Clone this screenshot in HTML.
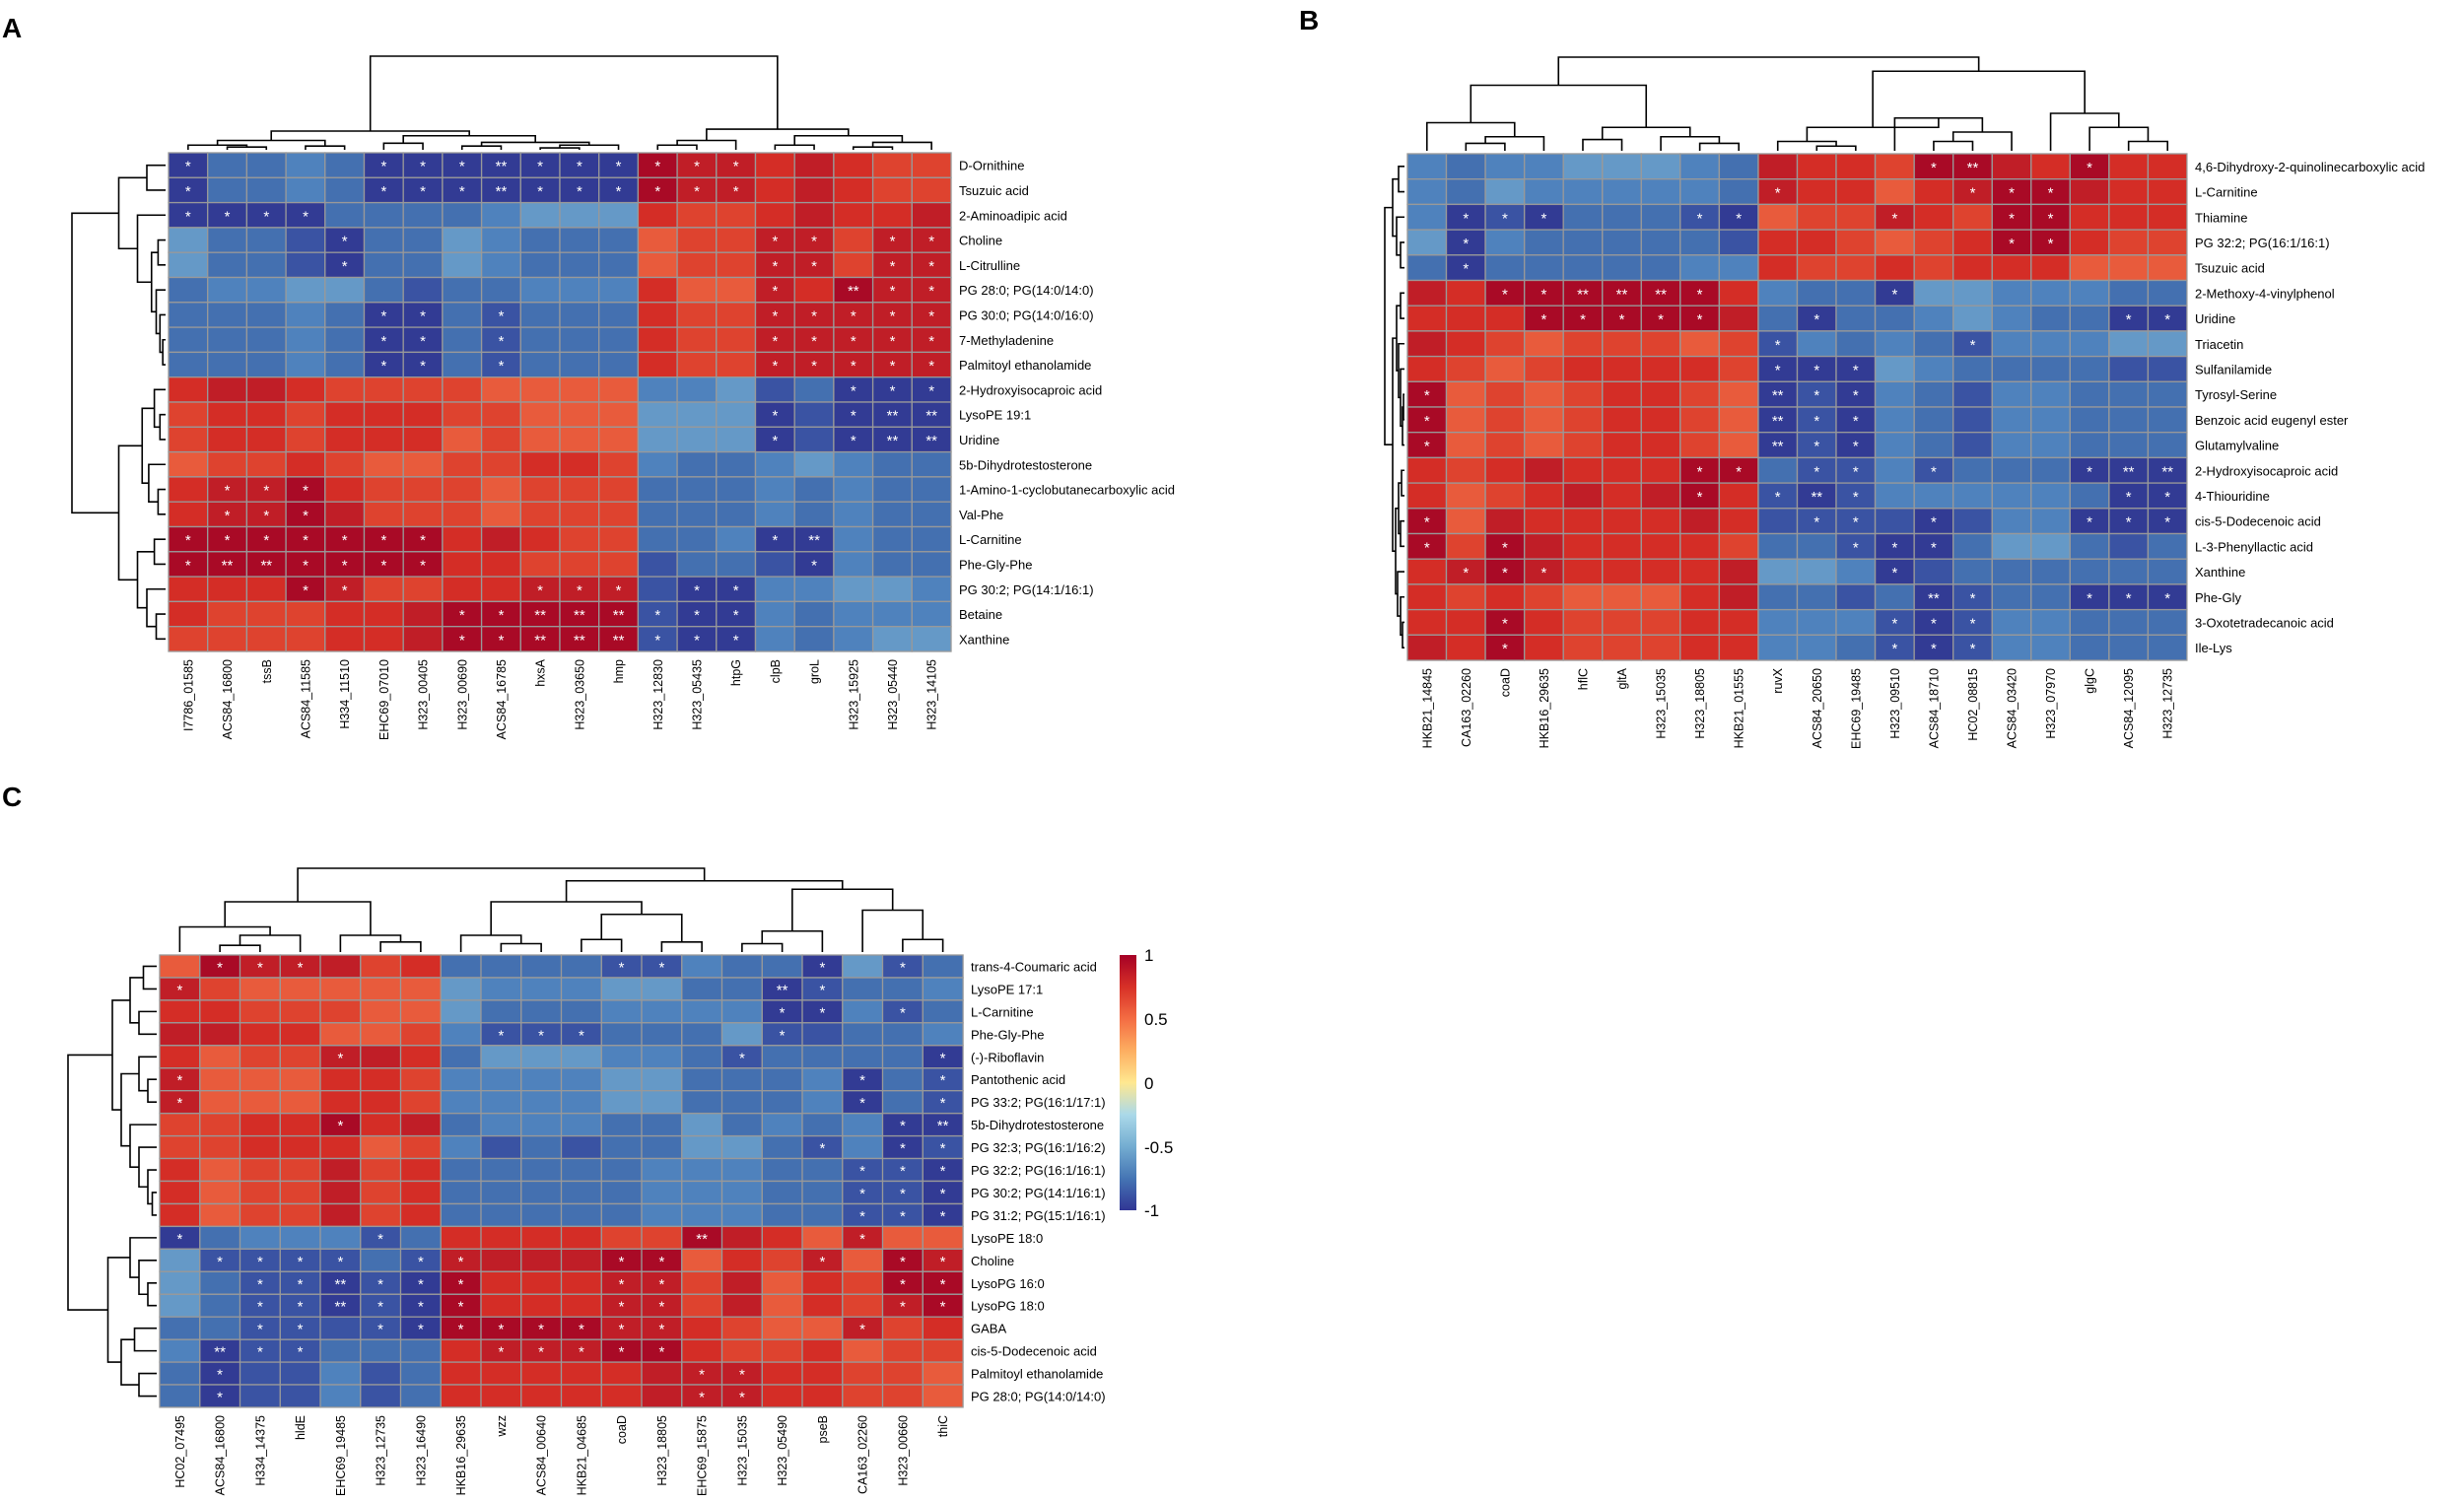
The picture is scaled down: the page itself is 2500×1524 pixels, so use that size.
<!DOCTYPE html>
<html><head><meta charset="utf-8"><style>
html,body{margin:0;padding:0;background:#fff;}
svg{display:block;font-family:"Liberation Sans",Arial,sans-serif;}
</style></head><body>
<svg id="s" width="2500" height="1524" viewBox="0 0 2500 1524" xmlns="http://www.w3.org/2000/svg">
<defs><linearGradient id="lg" x1="0" y1="0" x2="0" y2="1">
<stop offset="0" stop-color="#A50026"/><stop offset="0.125" stop-color="#D73027"/><stop offset="0.25" stop-color="#F46D43"/><stop offset="0.375" stop-color="#FDAE61"/><stop offset="0.5" stop-color="#FFE890"/><stop offset="0.625" stop-color="#ABD9E9"/><stop offset="0.75" stop-color="#74ADD1"/><stop offset="0.875" stop-color="#4575B4"/><stop offset="1" stop-color="#313695"/></linearGradient></defs>
<text x="2" y="38" font-size="28" font-weight="bold">A</text>
<text x="1318" y="30" font-size="28" font-weight="bold">B</text>
<text x="2" y="818" font-size="28" font-weight="bold">C</text>
<rect x="1136" y="969" width="17" height="259" fill="url(#lg)"/>
<text x="1161" y="975" font-size="17">1</text>
<text x="1161" y="1040" font-size="17">0.5</text>
<text x="1161" y="1105" font-size="17">0</text>
<text x="1161" y="1170" font-size="17">-0.5</text>
<text x="1161" y="1234" font-size="17">-1</text>
</svg>
<script>
const COL={a:"#323B94",b:"#3A53A3",c:"#4470B0",d:"#4F82BD",e:"#6599C7",A:"#A90A26",B:"#C01E27",C:"#D42D26",D:"#DE432F",E:"#E85B3C"};
const svg=document.getElementById('s');
let out='';
function panel(p){
 const {x0,x1,y0,y1,rows,cols,data}=p;
 const nr=rows.length,nc=cols.length,cw=(x1-x0)/nc,rh=(y1-y0)/nr;
 data.forEach((r,i)=>{const t=r.trim().split(/\s+/);t.forEach((tok,j)=>{
  const c=COL[tok[0]];const x=x0+j*cw,y=y0+i*rh;
  out+=`<rect x="${x.toFixed(1)}" y="${y.toFixed(1)}" width="${cw.toFixed(1)}" height="${rh.toFixed(1)}" fill="${c}" stroke="#999" stroke-width="1.3"/>`;
  const st=tok[1]==='1'?'*':tok[1]==='2'?'**':'';
  if(st)out+=`<text x="${(x+cw/2).toFixed(1)}" y="${(y+rh/2+6).toFixed(1)}" font-size="15" fill="#fff" text-anchor="middle">${st}</text>`;
 });});
 rows.forEach((n,i)=>{out+=`<text x="${x1+8}" y="${(y0+(i+0.5)*rh+5).toFixed(1)}" font-size="13">${n}</text>`;});
 cols.forEach((n,j)=>{const cx=x0+(j+0.5)*cw+4.5;const cy=y1+8;out+=`<text transform="translate(${cx.toFixed(1)},${cy}) rotate(-90)" font-size="12.5" text-anchor="end">${n}</text>`;});
 function dt(node,base,span,horiz,start,step){
  if(typeof node==='number')return [start+(node+0.5)*step,0];
  const L=dt(node[1],base,span,horiz,start,step),R=dt(node[2],base,span,horiz,start,step);
  const h=node[0];
  if(!horiz){const yh=base-h*span,yl=base-L[1]*span,yr=base-R[1]*span;
   out+=`<path d="M${L[0]},${yl}V${yh}H${R[0]}V${yr}" fill="none" stroke="#000" stroke-width="1.6"/>`;}
  else{const xh=base-h*span,xl=base-L[1]*span,xr=base-R[1]*span;
   out+=`<path d="M${xl},${L[0]}H${xh}V${R[0]}H${xr}" fill="none" stroke="#000" stroke-width="1.6"/>`;}
  return [(L[0]+R[0])/2,h];
 }
 dt(p.ct,y0-3,p.ctSpan,false,x0,cw);
 dt(p.rt,x0-3,p.rtSpan,true,y0,rh);
}
const A={x0:171,x1:965,y0:155,y1:661,
rows:["D-Ornithine","Tsuzuic acid","2-Aminoadipic acid","Choline","L-Citrulline","PG 28:0; PG(14:0/14:0)","PG 30:0; PG(14:0/16:0)","7-Methyladenine","Palmitoyl ethanolamide","2-Hydroxyisocaproic acid","LysoPE 19:1","Uridine","5b-Dihydrotestosterone","1-Amino-1-cyclobutanecarboxylic acid","Val-Phe","L-Carnitine","Phe-Gly-Phe","PG 30:2; PG(14:1/16:1)","Betaine","Xanthine"],
cols:["I7786_01585","ACS84_16800","tssB","ACS84_11585","H334_11510","EHC69_07010","H323_00405","H323_00690","ACS84_16785","hxsA","H323_03650","hmp","H323_12830","H323_05435","htpG","clpB","groL","H323_15925","H323_05440","H323_14105"],
data:[
"a1 c. c. d. c. a1 a1 a1 a2 a1 a1 a1 A1 B1 B1 C. B. C. D. D.",
"a1 c. c. d. c. a1 a1 a1 a2 a1 a1 a1 A1 B1 B1 C. B. C. D. D.",
"a1 a1 a1 a1 c. c. c. c. d. e. e. e. C. D. D. C. B. C. C. B.",
"e. c. c. b. a1 c. c. e. d. c. c. c. E. D. D. B1 B1 D. B1 B1",
"e. c. c. b. a1 c. c. e. d. c. c. c. E. D. D. B1 B1 D. B1 B1",
"c. d. d. e. e. c. b. c. c. d. d. d. C. E. E. B1 C. A2 B1 B1",
"c. c. c. d. c. a1 a1 c. b1 c. c. c. C. D. D. B1 B1 B1 B1 B1",
"c. c. c. d. c. a1 a1 c. b1 c. c. c. C. D. D. B1 B1 B1 B1 B1",
"c. c. c. d. c. a1 a1 c. b1 c. c. c. C. D. D. B1 B1 B1 B1 B1",
"C. B. B. C. D. D. D. D. E. E. E. E. d. d. e. b. c. a1 a1 a1",
"D. C. C. D. C. C. C. D. D. E. E. E. e. e. e. a1 b. a1 a2 a2",
"D. C. C. D. C. C. C. E. D. E. E. E. e. e. e. a1 b. a1 a2 a2",
"E. D. D. C. D. E. E. D. D. C. C. D. d. c. c. d. e. d. c. c.",
"C. B1 B1 A1 C. D. D. D. E. D. D. D. c. c. c. d. c. d. c. c.",
"C. B1 B1 A1 B. D. D. D. E. D. D. D. c. c. c. d. c. d. c. c.",
"A1 A1 A1 A1 A1 A1 A1 C. B. C. D. D. c. c. d. a1 a2 d. c. c.",
"A1 A2 A2 A1 A1 A1 A1 C. C. D. D. D. b. c. c. b. a1 d. c. c.",
"C. C. C. A1 B1 D. D. C. C. B1 B1 B1 b. a1 a1 d. d. e. e. d.",
"C. D. D. D. C. C. B. A1 A1 A2 A2 A2 b1 a1 a1 d. c. d. d. d.",
"D. D. D. D. C. C. B. A1 A1 A2 A2 A2 b1 a1 a1 d. c. d. e. e."],
ct:[1,[0.2,[0.1,[0.05,0,[0.03,1,2]],[0.04,3,4]],[0.15,[0.07,5,6],[0.08,[0.04,7,8],[0.05,[0.02,9,10],11]]]],[0.22,[0.1,[0.05,12,13],14],[0.15,[0.05,15,16],[0.08,[0.03,17,18],19]]]],ctSpan:95,
rt:[1,[0.5,[0.2,0,1],[0.3,2,[0.15,[0.08,3,4],[0.1,5,[0.06,6,[0.03,7,8]]]]]],[0.5,[0.25,[0.12,9,[0.06,10,11]],[0.18,12,[0.08,13,14]]],[0.3,[0.12,15,16],[0.2,17,[0.1,18,19]]]]],rtSpan:95};
const B={x0:1428,x1:2219,y0:156,y1:670,
rows:["4,6-Dihydroxy-2-quinolinecarboxylic acid","L-Carnitine","Thiamine","PG 32:2; PG(16:1/16:1)","Tsuzuic acid","2-Methoxy-4-vinylphenol","Uridine","Triacetin","Sulfanilamide","Tyrosyl-Serine","Benzoic acid eugenyl ester","Glutamylvaline","2-Hydroxyisocaproic acid","4-Thiouridine","cis-5-Dodecenoic acid","L-3-Phenyllactic acid","Xanthine","Phe-Gly","3-Oxotetradecanoic acid","Ile-Lys"],
cols:["HKB21_14845","CA163_02260","coaD","HKB16_29635","hflC","gltA","H323_15035","H323_18805","HKB21_01555","ruvX","ACS84_20650","EHC69_19485","H323_09510","ACS84_18710","HC02_08815","ACS84_03420","H323_07970","glgC","ACS84_12095","H323_12735"],
data:[
"d. c. d. d. e. e. e. d. c. B. C. C. D. A1 A2 B. C. A1 C. C.",
"d. c. e. d. d. d. d. d. c. B1 C. C. E. C. B1 A1 A1 B. C. C.",
"d. a1 b1 a1 c. c. c. b1 a1 E. D. D. B1 C. D. A1 A1 C. C. C.",
"e. a1 d. c. c. c. c. c. b. C. C. D. E. D. C. A1 A1 C. D. D.",
"c. a1 c. c. c. c. c. d. d. C. D. D. C. D. C. C. C. E. E. E.",
"B. C. A1 A1 A2 A2 A2 A1 C. d. c. c. a1 e. e. d. d. d. c. c.",
"C. C. C. A1 A1 A1 A1 A1 B. c. a1 c. c. d. e. d. c. c. a1 a1",
"B. C. D. E. D. D. D. E. D. b1 d. c. d. c. b1 d. d. d. e. e.",
"C. D. E. D. C. C. C. C. D. a1 a1 a1 e. d. c. c. c. c. b. b.",
"A1 E. D. E. D. C. C. D. E. a2 b1 a1 d. c. b. d. d. c. c. c.",
"A1 E. D. E. D. C. C. D. E. a2 b1 a1 d. c. b. d. d. c. c. c.",
"A1 E. D. E. D. C. C. D. E. a2 b1 a1 d. c. b. d. d. c. c. c.",
"C. D. C. B. C. C. C. A1 A1 c. b1 b1 d. b1 c. c. c. a1 a2 a2",
"C. E. D. C. B. C. B. A1 C. b1 a2 b1 d. d. d. d. d. c. a1 a1",
"A1 E. B. C. C. C. C. B. C. b. b1 b1 b. a1 b. d. d. a1 a1 a1",
"A1 D. A1 B. C. C. C. C. D. c. c. b1 a1 a1 c. e. e. c. b. c.",
"C. B1 A1 B1 C. C. C. C. B. e. e. d. a1 b. c. c. c. c. c. c.",
"C. D. C. D. E. E. E. C. B. c. c. b. c. a2 b1 c. c. a1 a1 a1",
"C. C. A1 C. D. D. D. C. C. d. d. d. b1 a1 b1 d. d. c. c. c.",
"B. C. A1 C. D. D. D. C. C. d. d. c. b1 a1 b1 d. d. c. c. c."],
ct:[1,[0.7,[0.3,0,[0.15,[0.08,1,2],3]],[0.25,[0.12,4,5],[0.15,6,[0.08,7,8]]]],[0.85,[0.25,[0.1,9,[0.05,10,11]],[0.35,12,[0.2,[0.1,13,14],15]]],[0.4,16,[0.25,17,[0.1,18,19]]]]],ctSpan:95,
rt:[1,[0.6,[0.3,0,1],[0.4,2,[0.2,3,4]]],[0.6,[0.4,[0.2,5,6],[0.3,7,[0.2,8,[0.1,[0.05,9,10],11]]]],[0.45,[0.3,[0.15,12,13],[0.2,14,15]],[0.35,16,[0.2,17,[0.1,18,19]]]]]],rtSpan:20};
const C={x0:162,x1:977,y0:969,y1:1428,
rows:["trans-4-Coumaric acid","LysoPE 17:1","L-Carnitine","Phe-Gly-Phe","(-)-Riboflavin","Pantothenic acid","PG 33:2; PG(16:1/17:1)","5b-Dihydrotestosterone","PG 32:3; PG(16:1/16:2)","PG 32:2; PG(16:1/16:1)","PG 30:2; PG(14:1/16:1)","PG 31:2; PG(15:1/16:1)","LysoPE 18:0","Choline","LysoPG 16:0","LysoPG 18:0","GABA","cis-5-Dodecenoic acid","Palmitoyl ethanolamide","PG 28:0; PG(14:0/14:0)"],
cols:["HC02_07495","ACS84_16800","H334_14375","hldE","EHC69_19485","H323_12735","H323_16490","HKB16_29635","wzz","ACS84_00640","HKB21_04685","coaD","H323_18805","EHC69_15875","H323_15035","H323_05490","pseB","CA163_02260","H323_00660","thiC"],
data:[
"E. A1 B1 B1 B. D. C. c. c. c. c. b1 b1 d. c. c. a1 e. b1 c.",
"B1 D. E. E. E. E. E. e. d. d. d. e. e. c. c. a2 b1 c. c. d.",
"C. C. D. D. D. E. E. e. c. c. c. d. d. d. d. a1 a1 d. b1 c.",
"B. B. C. C. E. E. D. d. b1 b1 b1 c. c. c. e. b1 b. c. c. d.",
"C. E. D. D. B1 B. C. c. e. e. e. d. d. c. b1 c. c. c. c. a1",
"B1 E. E. E. C. C. D. d. d. d. d. e. e. c. c. c. d. a1 c. b1",
"B1 E. E. E. C. C. D. d. d. d. d. e. e. c. c. c. d. a1 c. b1",
"D. D. C. C. A1 C. B. c. d. d. d. c. c. e. c. d. c. d. a1 a2",
"D. D. C. C. C. E. D. d. b. c. b. c. c. e. e. c. b1 d. a1 b1",
"C. E. D. D. B. D. C. c. c. c. c. c. d. d. d. c. c. b1 b1 a1",
"C. E. D. D. B. D. C. c. c. c. c. c. d. d. d. c. c. b1 b1 a1",
"C. E. D. D. B. D. C. c. c. c. c. c. d. d. d. c. c. b1 b1 a1",
"a1 c. d. d. d. b1 c. C. C. C. C. D. D. A2 B. C. E. B1 E. E.",
"e. b1 b1 b1 b1 c. b1 B1 B. B. B. A1 A1 E. C. D. B1 E. A1 B1",
"e. c. b1 b1 a2 b1 a1 A1 C. C. C. B1 B1 D. B. E. C. D. A1 A1",
"e. c. b1 b1 a2 b1 a1 A1 C. C. C. B1 B1 D. B. E. C. D. B1 A1",
"c. c. b1 b1 b. b1 a1 A1 A1 A1 A1 B1 B1 C. D. E. E. B1 D. C.",
"d. a2 b1 b1 c. c. c. C. B1 B1 B1 A1 A1 C. D. D. C. E. D. D.",
"c. a1 b. b. d. b. c. C. C. C. C. C. B. B1 B1 C. C. D. D. E.",
"c. a1 b. b. d. b. c. C. C. C. C. C. B. B1 B1 C. C. D. D. E."],
ct:[1,[0.6,[0.3,0,[0.2,[0.08,1,2],3]],[0.2,4,[0.12,5,6]]],[0.85,[0.6,[0.2,7,[0.1,8,9]],[0.45,[0.15,10,11],[0.12,12,13]]],[0.75,[0.25,[0.1,14,15],16],[0.5,17,[0.15,18,19]]]]],ctSpan:85,
rt:[1,[0.5,[0.3,[0.15,0,1],[0.2,2,3]],[0.4,[0.2,4,[0.1,5,6]],[0.3,7,[0.2,8,[0.1,9,[0.05,10,11]]]]]],[0.55,[0.3,12,[0.2,13,[0.1,14,15]]],[0.4,[0.25,16,17],[0.2,18,19]]]],rtSpan:90};
[A,B,C].forEach(panel);
svg.insertAdjacentHTML('beforeend',out);
</script>
</body></html>
